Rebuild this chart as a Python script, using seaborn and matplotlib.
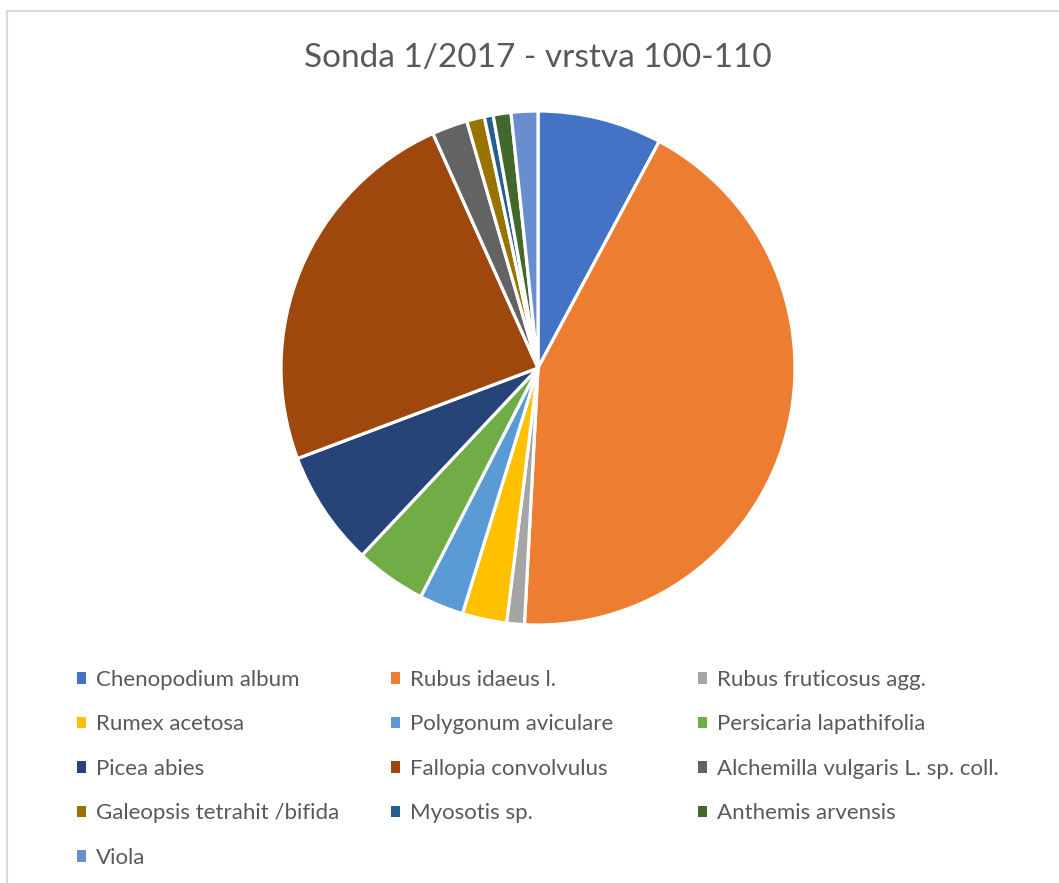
import matplotlib
matplotlib.use("Agg")
import matplotlib.pyplot as plt
from matplotlib.lines import Line2D
import seaborn as sns

# species and counts (clockwise from the top)
species = [
    "Chenopodium album", "Rubus idaeus l.", "Rubus fruticosus agg.",
    "Rumex acetosa", "Polygonum aviculare", "Persicaria lapathifolia",
    "Picea abies", "Fallopia convolvulus", "Alchemilla vulgaris L. sp. coll.",
    "Galeopsis tetrahit /bifida", "Myosotis sp.", "Anthemis arvensis",
    "Viola",
]
counts = [14, 77, 2, 5, 5, 8, 13, 43, 4, 2, 1, 2, 3]
colors = [
    "#4472C4", "#ED7D31", "#A5A5A5", "#FFC000", "#5B9BD5", "#70AD47",
    "#264478", "#9E480E", "#636363", "#997300", "#255E91", "#43682B",
    "#698ED0",
]
title = "Sonda 1/2017 - vrstva 100-110"

sns.set_theme(style="white")
plt.rcParams['font.family'] = ['Lato', 'DejaVu Sans']
text_color = "#595959"

W, H = 1059, 883
fig = plt.figure(figsize=(W / 100, H / 100), dpi=100)

# pie centre (538, 368) px, radius 257 px
cx, cy, r = 538, 368, 257
ax = fig.add_axes([(cx - r) / W, (H - cy - r) / H, 2 * r / W, 2 * r / H])
wedges, _ = ax.pie(counts, colors=colors, startangle=90, counterclock=False,
                   wedgeprops=dict(edgecolor="white", linewidth=2.3))
ax.set_xlim(-1.0, 1.0)
ax.set_ylim(-1.0, 1.0)
ax.set_aspect("equal")
for w in wedges:
    w.set_clip_on(False)

fig.text(cx / W, 1 - 58 / H, title, ha="center", va="center",
         fontsize=24, color=text_color)

# legend: three columns, filled row by row
col_x = [77, 391, 698]
for c in range(3):
    leg = fig.legend(wedges[c::3], species[c::3], loc="upper left",
                     bbox_to_anchor=(col_x[c] / W, 1 - 670 / H),
                     frameon=False, fontsize=16, labelcolor=text_color,
                     handlelength=0.42, handleheight=0.42,
                     handletextpad=0.45, labelspacing=1.1,
                     borderaxespad=0, borderpad=0)
    for h in leg.legend_handles:
        h.set_edgecolor("none")

# light chart border on the left and top
fig.add_artist(Line2D([7 / W, 7 / W], [0, 1 - 11 / H], color="#D9D9D9",
                      lw=1.5, transform=fig.transFigure))
fig.add_artist(Line2D([7 / W, 1], [1 - 11 / H, 1 - 11 / H], color="#D9D9D9",
                      lw=1.5, transform=fig.transFigure))

fig.savefig("out.png", dpi=100, facecolor="white")
